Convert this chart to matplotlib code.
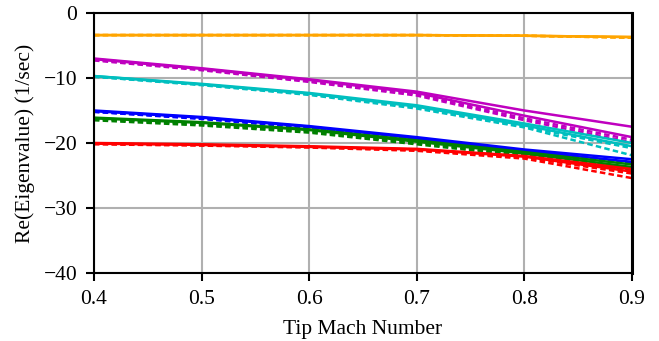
import numpy as np
import matplotlib.pyplot as plt

plt.rcParams['font.family'] = ['Liberation Serif', 'DejaVu Serif']
plt.rcParams['font.size'] = 15.5

mach = [0.4, 0.5, 0.6, 0.7, 0.8, 0.9]

# real part of each mode, two solid and two dashed variants per mode
orange_s1 = [-3.4, -3.4, -3.4, -3.4, -3.5, -3.7]
orange_s2 = [-3.4, -3.4, -3.4, -3.4, -3.5, -3.7]
orange_d1 = [-3.4, -3.4, -3.4, -3.4, -3.5, -3.8]
orange_d2 = [-3.4, -3.4, -3.4, -3.4, -3.5, -3.8]

magenta_s1 = [-7.0, -8.5, -10.2, -12.1, -15.0, -17.5]
magenta_s2 = [-7.1, -8.6, -10.3, -12.3, -15.8, -19.1]
magenta_d1 = [-7.2, -8.7, -10.5, -12.5, -16.2, -19.5]
magenta_d2 = [-7.3, -8.8, -10.6, -12.7, -16.5, -19.9]

cyan_s1 = [-9.7, -10.9, -12.3, -14.2, -17.0, -20.0]
cyan_s2 = [-9.7, -11.0, -12.4, -14.4, -17.3, -20.5]
cyan_d1 = [-9.8, -11.0, -12.5, -14.5, -17.5, -20.8]
cyan_d2 = [-9.8, -11.1, -12.6, -14.7, -17.6, -21.9]

blue_s1 = [-15.0, -16.0, -17.4, -19.1, -21.0, -22.5]
blue_s2 = [-15.1, -16.1, -17.5, -19.3, -21.2, -22.9]
blue_d1 = [-15.2, -16.2, -17.6, -19.4, -21.3, -23.1]
blue_d2 = [-15.2, -16.3, -17.7, -19.5, -21.4, -23.2]

green_s1 = [-16.1, -16.8, -17.9, -19.6, -21.4, -23.3]
green_s2 = [-16.2, -16.9, -18.0, -19.8, -21.6, -23.7]
green_d1 = [-16.3, -17.1, -18.2, -20.0, -21.8, -24.0]
green_d2 = [-16.5, -17.3, -18.4, -20.2, -22.0, -24.3]

red_s1 = [-20.0, -20.2, -20.5, -20.9, -22.0, -24.0]
red_s2 = [-20.1, -20.3, -20.6, -21.0, -22.1, -24.4]
red_d1 = [-20.1, -20.3, -20.6, -21.1, -22.2, -24.7]
red_d2 = [-20.2, -20.4, -20.7, -21.2, -22.4, -25.4]

modes = [
    ('#ffa500', orange_s1, orange_s2, orange_d1, orange_d2),
    ('#bf00bf', magenta_s1, magenta_s2, magenta_d1, magenta_d2),
    ('#00bfbf', cyan_s1, cyan_s2, cyan_d1, cyan_d2),
    ('#0000ff', blue_s1, blue_s2, blue_d1, blue_d2),
    ('#008000', green_s1, green_s2, green_d1, green_d2),
    ('#ff0000', red_s1, red_s2, red_d1, red_d2),
]

fig = plt.figure(figsize=(6.59, 3.41), dpi=100)
ax = fig.add_axes([0.1426, 0.1994, 0.8164, 0.7625])

for c, s1, s2, d1, d2 in modes:
    ax.plot(mach, s1, '-', color=c, lw=1.8)
    ax.plot(mach, s2, '-', color=c, lw=1.8)
    ax.plot(mach, d1, '--', color=c, lw=1.8, dashes=(2.2, 1.3))
    ax.plot(mach, d2, '--', color=c, lw=1.8, dashes=(2.2, 1.3))

ax.set_xlim(0.4, 0.9)
ax.set_ylim(-40, 0)
ax.set_xticks([0.4, 0.5, 0.6, 0.7, 0.8, 0.9])
ax.set_yticks([0, -10, -20, -30, -40])
ax.grid(color='#b0b0b0', lw=1.5)
ax.set_axisbelow(True)
for s in ax.spines.values():
    s.set_linewidth(1.5)
ax.spines['right'].set_linewidth(2.2)
ax.tick_params(direction='out', length=6, width=1.5, pad=6)
ax.set_xlabel('Tip Mach Number', labelpad=8)
ax.set_ylabel('Re(Eigenvalue) (1/sec)', labelpad=6)

fig.savefig('out.png', dpi=100)
